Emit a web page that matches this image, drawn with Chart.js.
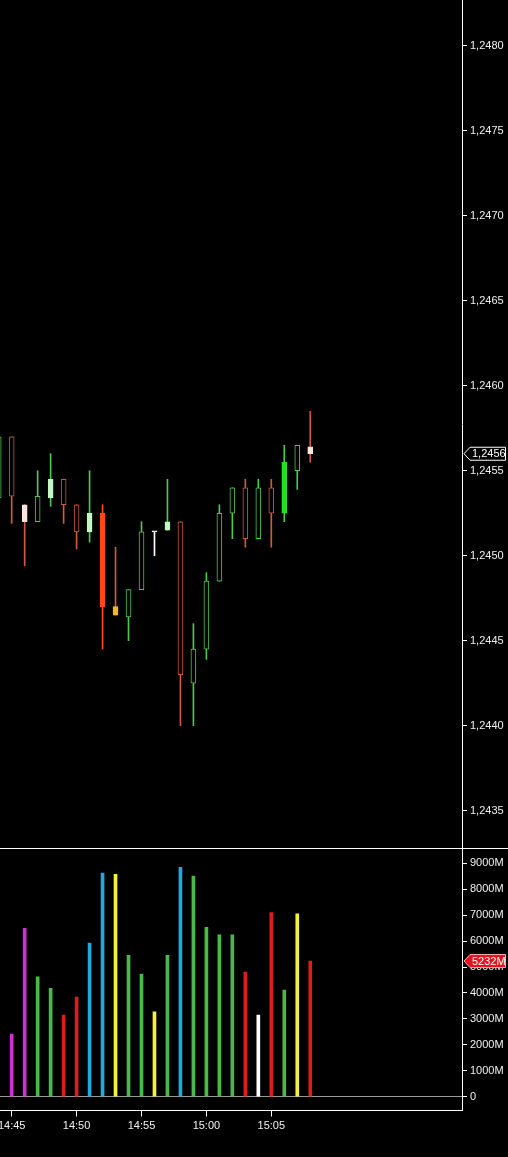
<!DOCTYPE html>
<html>
<head>
<meta charset="utf-8">
<script src="https://cdn.jsdelivr.net/npm/chart.js@4.4.0/dist/chart.umd.min.js"></script>
<style>
  html, body { margin: 0; padding: 0; background: #000; }
  #wrap { position: relative; width: 508px; height: 1157px; overflow: hidden; }
  #priceChart { position: absolute; left: 0; top: 0; }
  #volBox { position: absolute; left: 0; top: 848px; width: 508px; border-top: 1px solid #fff; }
  #volChart { display: block; }
</style>
</head>
<body>
<div id="wrap">
  <canvas id="priceChart" width="508" height="848"></canvas>
  <div id="volBox"><canvas id="volChart" width="508" height="308"></canvas></div>
</div>
<script>
//one minute bars
const times = ['14:44','14:45','14:46','14:47','14:48','14:49','14:50','14:51','14:52','14:53','14:54','14:55','14:56',
               '14:57','14:58','14:59','15:00','15:01','15:02','15:03','15:04','15:05','15:06','15:07','15:08']

const opens  = [1.24534,1.2457,1.2453,1.2452,1.24534,1.24545,1.2453,1.24514,1.24525,1.2447,1.24464,1.2448,1.24514,
                1.24515,1.2452,1.24425,1.24445,1.24485,1.24525,1.2454,1.2451,1.2454,1.24525,1.2455,1.24564]
const highs  = [1.2457,1.2457,1.2453,1.2455,1.2456,1.24545,1.2453,1.2455,1.2453,1.24505,1.2448,1.2452,1.24514,
                1.24545,1.2452,1.2446,1.2449,1.2453,1.2454,1.24545,1.24545,1.24545,1.24565,1.24565,1.24585]
const lows   = [1.24534,1.24519,1.24494,1.2452,1.24529,1.24519,1.24504,1.24508,1.24445,1.24465,1.2445,1.2448,1.2450,
                1.24515,1.2440,1.2440,1.24439,1.24485,1.2451,1.24505,1.2451,1.24505,1.2452,1.24539,1.24555]
const closes = [1.2457,1.24535,1.2452,1.24535,1.24545,1.2453,1.24514,1.24525,1.2447,1.24465,1.2448,1.24514,1.24514,
                1.2452,1.2443,1.24445,1.24485,1.24525,1.2454,1.2451,1.2454,1.24525,1.24555,1.24565,1.2456]

//candle colours: body fill (black = hollow) and wick/outline
const bodyFill = ['#000','#000','#ffe4dc','#000','#c4f7c4','#000','#000','#c4f7c4','#ff4a12','#ffb81c','#000','#000','#ffffff',
                  '#c4f7c4','#000','#000','#000','#000','#000','#000','#000','#000','#22e022','#000','#ffe4dc']
const lineColor = ['#4ec94e','#cf5a40','#cf5a40','#4ec94e','#4ec94e','#cf5a40','#cf5a40','#4ec94e','#ff4a12','#cf5a40','#4ec94e','#4ec94e','#ffffff',
                   '#4ec94e','#cf5a40','#4ec94e','#4ec94e','#4ec94e','#4ec94e','#cf5a40','#4ec94e','#cf5a40','#4ec94e','#4ec94e','#cf5a40']

//volume in millions
const volumes = [null,2420,6490,4620,4180,3150,3840,5920,8620,8580,5450,4730,3270,
                 5450,8850,8510,6530,6240,6240,4810,3150,7100,4110,7050,5232]
const volColors = ['#000','#d030d0','#d030d0','#4cb84c','#4cb84c','#e01b1b','#e01b1b','#1eaadf','#1eaadf','#f5f03a','#4cb84c','#4cb84c','#f5f03a',
                   '#4cb84c','#1eaadf','#4cb84c','#4cb84c','#4cb84c','#4cb84c','#e01b1b','#ffffff','#e01b1b','#4cb84c','#f5f03a','#e01b1b']

//axis tick values
const volTicks = [0, 1000, 2000, 3000, 4000, 5000, 6000, 7000, 8000, 9000]

//minutes after 14:00
toMinutes = function(t) {
    const p = t.split(':')
    return (Number(p[0]) - 14) * 60 + Number(p[1])
}
minuteLabel = function(m) {
    const h = 14 + Math.floor(m / 60)
    const mm = m % 60
    return h + ':' + (mm < 10 ? '0' + mm : mm)
}
priceLabel = function(v) {
    return v.toFixed(4).replace('.', ',')
}

const xs = times.map(toMinutes)
const lastX = xs[xs.length - 1]
const xMin = 44.1
const xMax = 79.69

Chart.defaults.font.family = '"Liberation Sans", Arial, sans-serif'
Chart.defaults.font.size = 11
Chart.defaults.color = '#f0f0f0'
Chart.defaults.animation = false

//tag for last price / last volume on the right axis
makeTag = function(id, getValue, getText, fill, stroke) {
    return {
        id: id,
        afterDraw(chart) {
            const ctx = chart.ctx
            const y = chart.scales.y.getPixelForValue(getValue())
            const x = chart.chartArea.right + 2
            ctx.save()
            ctx.beginPath()
            ctx.moveTo(x, y)
            ctx.lineTo(x + 6, y - 6.5)
            ctx.lineTo(505.5, y - 6.5)
            ctx.lineTo(505.5, y + 6.5)
            ctx.lineTo(x + 6, y + 6.5)
            ctx.closePath()
            ctx.fillStyle = fill
            ctx.fill()
            ctx.strokeStyle = stroke
            ctx.lineWidth = 1
            ctx.stroke()
            ctx.fillStyle = '#fff'
            ctx.font = '11px "Liberation Sans", Arial'
            ctx.textBaseline = 'middle'
            ctx.fillText(getText(), x + 8, y + 0.5)
            ctx.restore()
        }
    }
}

//setup price chart
const priceData = {
    datasets: [{
        label: 'body',
        data: xs.map((x, i) => ({x: x, y: [opens[i], closes[i]]})),
        backgroundColor: bodyFill,
        borderColor: bodyFill.map((c, i) => c === '#000' ? lineColor[i] : c),
        borderWidth: 1,
        borderSkipped: false,
        barThickness: 5,
        minBarLength: 1,
        grouped: false,
        order: 0
    }, {
        label: 'wick',
        data: xs.map((x, i) => ({x: x, y: [lows[i], highs[i]]})),
        backgroundColor: lineColor,
        borderWidth: 0,
        barThickness: 1,
        grouped: false,
        order: 1
    }]
}

const priceConfig = {
    type: 'bar',
    data: priceData,
    options: {
        responsive: false,
        layout: {padding: 0},
        plugins: {legend: {display: false}, tooltip: {enabled: false}},
        scales: {
            x: {type: 'linear', min: xMin, max: xMax, offset: false, display: false},
            y: {
                position: 'right',
                min: 1.24328,
                max: 1.24827,
                border: {color: '#fff', width: 1},
                grid: {drawOnChartArea: false, color: '#fff', tickLength: 5},
                ticks: {stepSize: 0.0005, includeBounds: false, padding: 3, callback: priceLabel},
                afterFit: s => { s.width = 46; s.paddingTop = 0; s.paddingBottom = 0 }
            }
        }
    },
    plugins: [makeTag('priceTag', () => closes[closes.length - 1], () => priceLabel(closes[closes.length - 1]), '#000', '#fff')]
}

const priceChart = new Chart(document.getElementById('priceChart'), priceConfig)

//setup volume chart
const volData = {
    datasets: [{
        label: 'volume',
        data: xs.map((x, i) => ({x: x, y: volumes[i]})),
        backgroundColor: volColors,
        borderWidth: 0,
        barThickness: 3,
        grouped: false
    }]
}

const volConfig = {
    type: 'bar',
    data: volData,
    options: {
        responsive: false,
        layout: {padding: 0},
        plugins: {legend: {display: false}, tooltip: {enabled: false}},
        scales: {
            x: {
                type: 'linear',
                min: xMin,
                max: xMax,
                offset: false,
                border: {color: '#fff', width: 1},
                grid: {drawOnChartArea: false, color: '#fff', tickLength: 6, offset: false},
                ticks: {stepSize: 5, includeBounds: false, padding: 3, maxRotation: 0, autoSkip: false, callback: minuteLabel},
                afterBuildTicks: s => { s.ticks = s.ticks.filter(t => t.value <= lastX) },
                afterFit: s => { s.height = 46.5; s.paddingLeft = 0; s.paddingRight = 0 }
            },
            y: {
                position: 'right',
                min: -532,
                max: 9553,
                border: {color: '#fff', width: 1},
                grid: {
                    color: ctx => ctx.tick && ctx.tick.value === 0 ? '#9a9a9a' : 'rgba(0,0,0,0)',
                    tickColor: '#fff',
                    tickLength: 5
                },
                ticks: {autoSkip: false, padding: 3, callback: v => v === 0 ? '0' : v + 'M'},
                afterBuildTicks: s => { s.ticks = volTicks.map(v => ({value: v})) },
                afterFit: s => { s.width = 46; s.paddingTop = 0; s.paddingBottom = 0 }
            }
        }
    },
    plugins: [makeTag('volTag', () => volumes[volumes.length - 1], () => volumes[volumes.length - 1] + 'M', '#e3141c', '#ffb0b0')]
}

const volChart = new Chart(document.getElementById('volChart'), volConfig)
</script>
</body>
</html>
